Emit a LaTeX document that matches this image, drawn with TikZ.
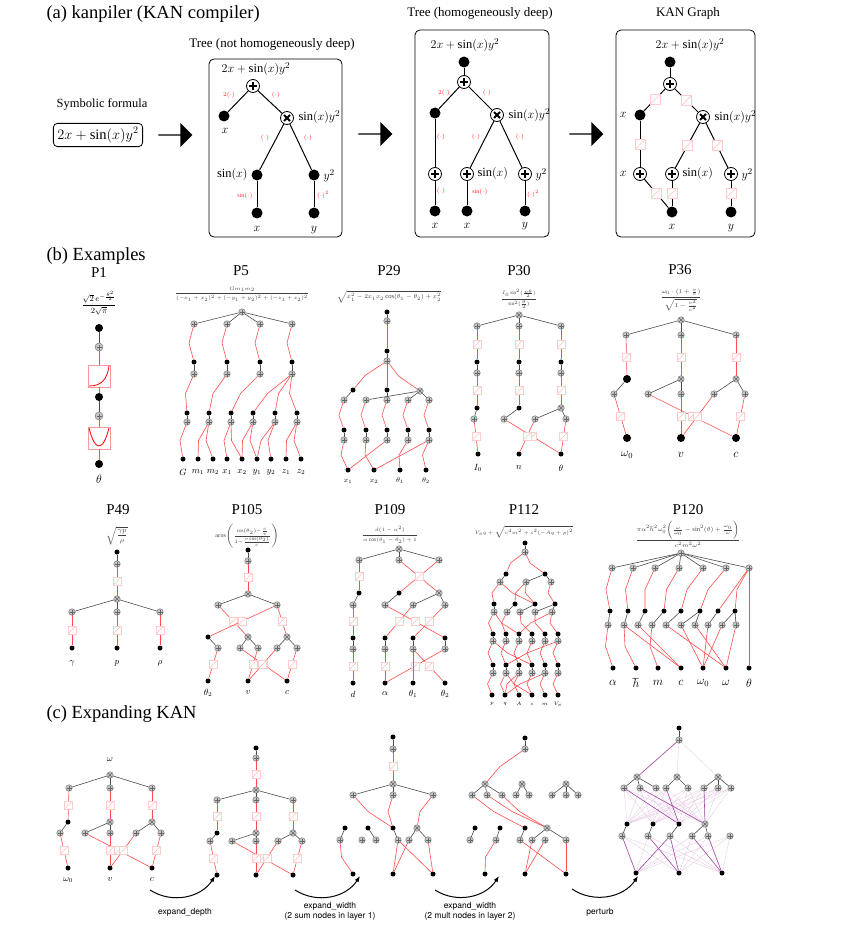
\documentclass[tikz,border=0pt]{standalone}
\usepackage{fontspec}
\setmainfont{Liberation Serif}
\newfontfamily\hv{TeX Gyre Heros}
\usetikzlibrary{calc,shapes.arrows,arrows.meta}
\tikzset{
 bd/.style={circle,fill=black,inner sep=0,minimum size=11},
 badd/.style={circle,draw,thick,fill=white,inner sep=0,minimum size=13,path picture={
   \draw[line width=1.8pt] ([xshift=-4pt]path picture bounding box.center)--([xshift=4pt]path picture bounding box.center);
   \draw[line width=1.8pt] ([yshift=-4pt]path picture bounding box.center)--([yshift=4pt]path picture bounding box.center);}},
 bmul/.style={circle,draw,thick,fill=white,inner sep=0,minimum size=13,path picture={
   \draw[line width=1.8pt] ([shift={(-3pt,-3pt)}]path picture bounding box.center)--([shift={(3pt,3pt)}]path picture bounding box.center);
   \draw[line width=1.8pt] ([shift={(-3pt,3pt)}]path picture bounding box.center)--([shift={(3pt,-3pt)}]path picture bounding box.center);}},
 be/.style={line width=1pt},
 rl/.style={text=red!85,font=\fontsize{6}{6}\selectfont,inner sep=1pt},
 tl/.style={font=\fontsize{13}{14}\selectfont},
 ml/.style={font=\fontsize{12.5}{13}\selectfont},
 sec/.style={font=\fontsize{18.5}{19}\selectfont,anchor=west},
 pt/.style={font=\fontsize{15}{16}\selectfont},
 fm/.style={font=\fontsize{6}{7}\selectfont,text=black!75,inner sep=1pt},
 il/.style={font=\fontsize{9}{10}\selectfont},
 sd/.style={circle,fill=black,inner sep=0,minimum size=5},
 sa/.style={circle,draw=black!60,fill=gray!45,inner sep=0,minimum size=6.5,path picture={
   \draw[line width=.5pt] ([xshift=-2.5pt]path picture bounding box.center)--([xshift=2.5pt]path picture bounding box.center);
   \draw[line width=.5pt] ([yshift=-2.5pt]path picture bounding box.center)--([yshift=2.5pt]path picture bounding box.center);}},
 sm/.style={circle,draw=black!60,fill=gray!45,inner sep=0,minimum size=6.5,path picture={
   \draw[line width=.5pt] ([shift={(-2pt,-2pt)}]path picture bounding box.center)--([shift={(2pt,2pt)}]path picture bounding box.center);
   \draw[line width=.5pt] ([shift={(-2pt,2pt)}]path picture bounding box.center)--([shift={(2pt,-2pt)}]path picture bounding box.center);}},
 sb/.style={rectangle,draw=red!20,fill=white,inner sep=0,minimum size=8,path picture={
   \draw[red!25] (path picture bounding box.south west)--(path picture bounding box.north east);}},
 kb/.style={black!70,line width=.6pt},
 kr/.style={red!70,line width=.6pt},
 kp/.style={violet!70,line width=.6pt},
 kf/.style={violet!25,line width=.25pt},
}
\newcommand\ND[3]{\node[sd] (#1) at (#2,#3) {};}
\newcommand\NA[3]{\node[sa] (#1) at (#2,#3) {};}
\newcommand\NM[3]{\node[sm] (#1) at (#2,#3) {};}
\newcommand\Eb[2]{\draw[kb] (#1) -- (#2);}
\newcommand\Er[2]{\draw[kr] (#1) -- ($(#1)!.5!(#2)+(-5,0)$) -- (#2);}
\newcommand\Es[2]{\draw[kr] (#1) -- (#2); \node[sb] at ($(#1)!.5!(#2)$) {};}
\newcommand\Ep[2]{\draw[kp] (#1) -- (#2);}
\begin{document}
\begin{tikzpicture}[x=1pt,y=-1pt]
\useasboundingbox[fill=white] (0,0) rectangle (857,928);
%% (a)
\node[sec] (ta) at (43,14) {(a) kanpiler (KAN compiler)};
\node[ml] (sf) at (102,104) {Symbolic formula};
\node[draw,rounded corners=4pt,thick,font=\fontsize{14.5}{15}\selectfont,inner sep=4pt] (sfb) at (98,135) {$2x+\sin(x)y^2$};
\node[single arrow,fill=black,minimum height=34,minimum width=24,single arrow head extend=4,inner sep=0] (ar1) at (175,135) {};
\node[single arrow,fill=black,minimum height=34,minimum width=24,single arrow head extend=4,inner sep=0] (ar2) at (375,134) {};
\node[single arrow,fill=black,minimum height=34,minimum width=24,single arrow head extend=4,inner sep=0] (ar3) at (586,134) {};
% box1
\node[tl] (t1) at (272,44) {Tree (not homogeneously deep)};
\draw[rounded corners=5pt,thick] (209,59) rectangle (342,237);
\node[ml] (f1) at (256,69) {$2x+\sin(x)y^2$};
\node[badd] (a1p) at (253,86) {};
\node[bd] (a1x) at (224,116) {}; \node[ml] (a1xl) at (225,131) {$x$};
\node[bmul] (a1m) at (287,118) {}; \node[ml,anchor=west] (a1ml) at (295,117) {$\sin(x)y^2$};
\node[bd] (a1s) at (257,175) {}; \node[ml,anchor=east] (a1sl) at (251,175) {$\sin(x)$};
\node[bd] (a1y) at (314,175) {}; \node[ml,anchor=west] (a1yl) at (320,176) {$y^2$};
\node[bd] (a1bx) at (257,213) {}; \node[ml] (a1bxl) at (257,229) {$x$};
\node[bd] (a1by) at (314,213) {}; \node[ml] (a1byl) at (314,230) {$y$};
\draw[be] (a1p)--(a1x); \draw[be] (a1p)--(a1m); \draw[be] (a1m)--(a1s); \draw[be] (a1m)--(a1y);
\draw[be] (a1s)--(a1bx); \draw[be] (a1y)--(a1by);
\node[rl] (r11) at (229,95) {$2(\cdot)$}; \node[rl] (r12) at (276,95) {$(\cdot)$};
\node[rl] (r13) at (265,138) {$(\cdot)$}; \node[rl] (r14) at (308,138) {$(\cdot)$};
\node[rl] (r15) at (245,196) {$\sin(\cdot)$}; \node[rl] (r16) at (323,195) {$(\cdot)^2$};
% box2
\node[tl] (t2) at (480,13) {Tree (homogeneously deep)};
\draw[rounded corners=5pt,thick] (415,30) rectangle (549,237);
\node[ml] (f2) at (465,45) {$2x+\sin(x)y^2$};
\node[bd] (b2t) at (464,62) {}; \node[badd] (b2p) at (464,82) {};
\node[bd] (b2x) at (435,113) {}; \node[bmul] (b2m) at (497,115) {};
\node[ml,anchor=west] (b2ml) at (505,115) {$\sin(x)y^2$};
\node[badd] (b2a) at (435,174) {}; \node[badd] (b2b) at (467,174) {}; \node[badd] (b2c) at (525,174) {};
\node[ml,anchor=west] (b2bl) at (474,174) {$\sin(x)$}; \node[ml,anchor=west] (b2cl) at (532,175) {$y^2$};
\node[bd] (b2d) at (435,211) {}; \node[bd] (b2e) at (467,211) {}; \node[bd] (b2f) at (525,211) {};
\node[ml] (b2dl) at (435,226) {$x$}; \node[ml] (b2el) at (467,226) {$x$}; \node[ml] (b2fl) at (525,226) {$y$};
\draw[be] (b2t)--(b2p); \draw[be] (b2p)--(b2x); \draw[be] (b2p)--(b2m); \draw[be] (b2x)--(b2a);
\draw[be] (b2m)--(b2b); \draw[be] (b2m)--(b2c); \draw[be] (b2a)--(b2d); \draw[be] (b2b)--(b2e); \draw[be] (b2c)--(b2f);
\node[rl] (r21) at (444,93) {$2(\cdot)$}; \node[rl] (r22) at (487,93) {$(\cdot)$};
\node[rl] (r23) at (441,137) {$(\cdot)$}; \node[rl] (r24) at (476,137) {$(\cdot)$}; \node[rl] (r25) at (520,137) {$(\cdot)$};
\node[rl] (r26) at (441,191) {$(\cdot)$}; \node[rl] (r27) at (480,192) {$\sin(\cdot)$}; \node[rl] (r28) at (533,194) {$(\cdot)^2$};
% box3
\node[tl] (t3) at (688,13) {KAN Graph};
\draw[rounded corners=5pt,thick] (616,30) rectangle (755,237);
\node[ml] (f3) at (690,45) {$2x+\sin(x)y^2$};
\node[bd] (c3t) at (670,62) {}; \node[badd] (c3p) at (670,84) {};
\node[bd] (c3x) at (640,115) {}; \node[ml,anchor=east] (c3xl) at (630,115) {$x$};
\node[bmul] (c3m) at (703,117) {}; \node[ml,anchor=west] (c3ml) at (711,117) {$\sin(x)y^2$};
\node[badd] (c3a) at (640,174) {}; \node[ml,anchor=east] (c3al) at (630,174) {$x$};
\node[badd] (c3b) at (672,174) {}; \node[ml,anchor=west] (c3bl) at (679,174) {$\sin(x)$};
\node[badd] (c3c) at (731,174) {}; \node[ml,anchor=west] (c3cl) at (738,175) {$y^2$};
\node[bd] (c3d) at (672,212) {}; \node[ml] (c3dl) at (672,227) {$x$};
\node[bd] (c3e) at (731,212) {}; \node[ml] (c3el) at (731,228) {$y$};
\draw[be] (c3t)--(c3p);
\foreach \a/\b in {c3p/c3x,c3p/c3m,c3x/c3a,c3m/c3b,c3m/c3c,c3a/c3d,c3b/c3d,c3c/c3e}{
  \draw[be] (\a)--(\b); \node[sb,minimum size=10] at ($(\a)!.5!(\b)$) {};}
%% (b)
\node[sec] (tb) at (43,256) {(b) Examples};
% P1
\node[pt] (p1) at (99,273) {P1};
\node[fm,text=black,font=\fontsize{8}{9}\selectfont] (p1f) at (99,303) {$\displaystyle\frac{\sqrt{2}\,e^{-\frac{\theta^2}{2}}}{2\sqrt{\pi}}$};
\node[bd,minimum size=8] (p1a) at (99,328) {}; \node[sa,minimum size=8] (p1b) at (99,347) {};
\node[draw=red!40,minimum size=22,inner sep=0] (p1c) at (99,376) {};
\node[bd,minimum size=8] (p1d) at (99,397) {}; \node[sa,minimum size=8] (p1e) at (99,416) {};
\node[draw=red!40,minimum size=22,inner sep=0] (p1g) at (99,438) {};
\node[bd,minimum size=8] (p1h) at (99,464) {}; \node[font=\fontsize{12}{12}\selectfont] (p1l) at (99,479) {$\theta$};
\draw[kb] (p1a)--(p1b); \draw[kr] (p1b)--(p1c); \draw[kr] (p1c)--(p1d); \draw[kb] (p1d)--(p1e); \draw[kr] (p1e)--(p1g); \draw[kr] (p1g)--(p1h);
\draw[red,thick] (89,386) .. controls (101,386) and (107,380) .. (109,366);
\draw[red,thick] (89,428) .. controls (95,452) and (103,452) .. (109,428);
% P5
\node[pt] (p5) at (241,271) {P5};
\node[fm,font=\fontsize{5.5}{6}\selectfont] (p5f) at (242,294) {$\displaystyle\frac{Gm_1m_2}{(-x_1+x_2)^2+(-y_1+y_2)^2+(-z_1+z_2)^2}$};
\NA{p5t}{242}{312}
\foreach \i/\x in {1/194,2/227,3/260,4/292}{\NA{p5a\i}{\x}{324} \ND{p5b\i}{\x}{362} \NA{p5c\i}{\x}{374} \Eb{p5t}{p5a\i} \Er{p5a\i}{p5b\i} \Eb{p5b\i}{p5c\i}}
\foreach \i/\x in {1/187,2/209,3/231,4/253,5/275,6/297}{\ND{p5d\i}{\x}{413} \NA{p5e\i}{\x}{422} \Eb{p5d\i}{p5e\i}}
\Er{p5c1}{p5d1} \Er{p5c2}{p5d2} \Er{p5c3}{p5d3} \Er{p5c4}{p5d4} \Er{p5c4}{p5d5} \Er{p5c4}{p5d6}
\foreach \i/\x/\l in {1/183/G,2/198/m_1,3/213/m_2,4/227/x_1,5/242/x_2,6/257/y_1,7/271/y_2,8/286/z_1,9/301/z_2}{\ND{p5i\i}{\x}{459} \node[il] (p5l\i) at (\x,472) {$\l$};}
\Er{p5e1}{p5i1} \Er{p5e2}{p5i2} \Er{p5e2}{p5i3} \Er{p5e3}{p5i4} \Er{p5e3}{p5i5} \Er{p5e4}{p5i5} \Er{p5e4}{p5i6} \Er{p5e5}{p5i7} \Er{p5e5}{p5i6} \Er{p5e6}{p5i8} \Er{p5e6}{p5i9}
% P29
\node[pt] (p29) at (389,271) {P29};
\node[fm,font=\fontsize{6.5}{7}\selectfont] (p29f) at (389,297) {$\sqrt{x_1^2-2x_1x_2\cos(\theta_1-\theta_2)+x_2^2}$};
\ND{p29a}{387}{312} \NA{p29b}{387}{321} \ND{p29c}{387}{351} \NA{p29d}{387}{361}
\Eb{p29a}{p29b} \draw[kr] (p29b)--(p29c); \Eb{p29c}{p29d}
\ND{p29e1}{353}{390} \ND{p29e2}{387}{390} \NM{p29e3}{420}{391}
\Er{p29d}{p29e1} \draw[kr] (p29d)--(p29e2); \Er{p29d}{p29e3}
\foreach \i/\x in {1/344,2/366,3/387,4/408,5/429}{\NA{p29f\i}{\x}{400} \ND{p29g\i}{\x}{430} \NA{p29h\i}{\x}{440} \Er{p29f\i}{p29g\i} \Eb{p29g\i}{p29h\i}}
\Eb{p29e1}{p29f1} \Eb{p29e2}{p29f3} \Eb{p29e3}{p29f2} \Eb{p29e3}{p29f4} \Eb{p29e3}{p29f5}
\foreach \i/\x/\l in {1/348/x_1,2/374/x_2,3/400/\theta_1,4/426/\theta_2}{\ND{p29i\i}{\x}{470} \node[il,font=\fontsize{7}{7}\selectfont] (p29l\i) at (\x,481) {$\l$};}
\Er{p29h1}{p29i1} \Er{p29h2}{p29i2} \draw[kr] (p29h3)--(p29i1); \Er{p29h4}{p29i3} \Er{p29h5}{p29i4} \draw[kr] (p29h5)--(p29i2);
% P30
\node[pt] (p30) at (519,271) {P30};
\node[fm,font=\fontsize{5}{6}\selectfont] (p30f) at (519,299) {$\displaystyle\frac{I_0\sin^2(\frac{n\theta}{2})}{\sin^2(\frac{\theta}{2})}$};
\NM{p30t}{519}{315}
\foreach \i/\x in {1/477,2/519,3/561}{\NA{p30a\i}{\x}{326} \ND{p30b\i}{\x}{362} \NA{p30c\i}{\x}{373} \Eb{p30t}{p30a\i} \Es{p30a\i}{p30b\i} \Eb{p30b\i}{p30c\i}}
\ND{p30d1}{477}{408} \ND{p30d2}{519}{408} \NM{p30d3}{561}{408}
\Es{p30c1}{p30d1} \Es{p30c2}{p30d2} \Es{p30c3}{p30d3}
\NA{p30e1}{474}{419} \NA{p30e2}{504}{419} \NA{p30e3}{535}{419} \NA{p30e4}{566}{419}
\Eb{p30d1}{p30e1} \Eb{p30d2}{p30e2} \Eb{p30d3}{p30e3} \Eb{p30d3}{p30e4}
\foreach \i/\x/\l in {1/478/I_0,2/519/n,3/561/\theta}{\ND{p30i\i}{\x}{454} \node[il] (p30l\i) at (\x,468) {$\l$};}
\Es{p30e1}{p30i1} \Es{p30e2}{p30i3} \Es{p30e3}{p30i2} \Es{p30e4}{p30i3}
% P36
\node[pt] (p36) at (680,270) {P36};
\node[fm,font=\fontsize{6.5}{7}\selectfont] (p36f) at (681,300) {$\displaystyle\frac{\omega_0\cdot(1+\frac{v}{c})}{\sqrt{1-\frac{v^2}{c^2}}}$};
\NM{p36t}{681}{320}
\foreach \i/\x in {1/626,2/681,3/736}{\NA{p36a\i}{\x}{335} \Eb{p36t}{p36a\i}}
\node[bd,minimum size=8] (p36b1) at (627,379) {}; \NM{p36b2}{681}{379} \NM{p36b3}{736}{379}
\Es{p36a1}{p36b1} \Es{p36a2}{p36b2} \Es{p36a3}{p36b3}
\foreach \i/\x in {1/614,2/648,3/681,4/714,5/745}{\NA{p36c\i}{\x}{394}}
\Eb{p36b1}{p36c1} \Eb{p36b2}{p36c2} \Eb{p36b2}{p36c3} \Eb{p36b3}{p36c4} \Eb{p36b3}{p36c5}
\foreach \i/\x/\l in {1/627/\omega_0,2/681/v,3/736/c}{\node[bd,minimum size=8] (p36i\i) at (\x,438) {}; \node[font=\fontsize{12}{12}\selectfont] (p36l\i) at (\x,455) {$\l$};}
\Es{p36c1}{p36i1} \Es{p36c2}{p36i3} \Es{p36c3}{p36i2} \Es{p36c4}{p36i2} \Es{p36c5}{p36i3}
% P49
\node[pt] (p49) at (118,510) {P49};
\node[fm,font=\fontsize{7}{8}\selectfont] (p49f) at (117,536) {$\sqrt{\displaystyle\frac{\gamma p}{\rho}}$};
\ND{p49a}{117}{552} \NA{p49b}{117}{564} \NM{p49d}{117}{599}
\Eb{p49a}{p49b} \Es{p49b}{p49d}
\foreach \i/\x/\l in {1/72/\gamma,2/117/p,3/160/\rho}{\NA{p49e\i}{\x}{612} \ND{p49i\i}{\x}{648} \Eb{p49d}{p49e\i} \Es{p49e\i}{p49i\i} \node[il] (p49l\i) at (\x,663) {$\l$};}
% P105
\node[pt] (p105) at (247,510) {P105};
\node[fm,font=\fontsize{6}{7}\selectfont] (p105f) at (247,536) {$\mathrm{acos}\Bigl(\frac{\cos(\theta_2)-\frac{c}{v}}{1-\frac{v\cos(\theta_2)}{c}}\Bigr)$};
\ND{p105a}{248}{550} \NA{p105b}{248}{561} \NM{p105c}{248}{594}
\Eb{p105a}{p105b} \Es{p105b}{p105c}
\NA{p105d1}{218}{605} \NA{p105d2}{277}{605} \Eb{p105c}{p105d1} \Eb{p105c}{p105d2}
\ND{p105e1}{208}{637} \NM{p105e2}{248}{637} \NM{p105e3}{287}{637}
\Es{p105d1}{p105e2} \Es{p105d2}{p105e1} \Es{p105d2}{p105e3}
\foreach \i/\x in {1/218,2/240,3/258,4/277,5/297}{\NA{p105f\i}{\x}{648}}
\Eb{p105e1}{p105f1} \Eb{p105e2}{p105f2} \Eb{p105e2}{p105f3} \Eb{p105e3}{p105f4} \Eb{p105e3}{p105f5}
\foreach \i/\x/\l in {1/208/\theta_2,2/248/v,3/287/c}{\ND{p105i\i}{\x}{681} \node[il] (p105l\i) at (\x,693) {$\l$};}
\Es{p105f1}{p105i1} \Es{p105f2}{p105i3} \Es{p105f3}{p105i2} \Es{p105f4}{p105i2} \Es{p105f5}{p105i3}
% P109
\node[pt] (p109) at (390,510) {P109};
\node[fm,font=\fontsize{5.5}{6}\selectfont] (p109f) at (390,535) {$\displaystyle\frac{d(1-\alpha^2)}{\alpha\cos(\theta_1-\theta_2)+1}$};
\NM{p109t}{399}{549}
\foreach \i/\x in {1/359,2/399,3/439}{\NA{p109a\i}{\x}{560} \Eb{p109t}{p109a\i}}
\ND{p109b1}{359}{593} \ND{p109b2}{399}{593} \NM{p109b3}{439}{593}
\Es{p109a1}{p109b1} \Es{p109a2}{p109b3} \Es{p109a3}{p109b2}
\foreach \i/\x in {1/353,2/385,3/413,4/445}{\NA{p109c\i}{\x}{605} \ND{p109d\i}{\x}{638} \NA{p109e\i}{\x}{649} \Eb{p109d\i}{p109e\i}}
\Eb{p109b1}{p109c1} \Eb{p109b2}{p109c2} \Eb{p109b3}{p109c3} \Eb{p109b3}{p109c4}
\Es{p109c1}{p109d1} \Es{p109c2}{p109d4} \Es{p109c3}{p109d2} \Es{p109c4}{p109d3}
\foreach \i/\x/\l in {1/353/d,2/385/\alpha,3/413/\theta_1,4/445/\theta_2}{\ND{p109i\i}{\x}{683} \node[il] (p109l\i) at (\x,694) {$\l$};}
\Es{p109e1}{p109i1} \Es{p109e2}{p109i2} \Es{p109e3}{p109i4} \Es{p109e4}{p109i2} \draw[kr] (p109e3)--(p109i3);
% P112
\node[pt] (p112) at (524,510) {P112};
\node[fm,font=\fontsize{4.5}{5}\selectfont] (p112f) at (524,532) {$V_eq+\sqrt{c^4m^2+c^2(-Aq+p)^2}$};
\ND{p112a}{525}{543} \NA{p112b}{525}{552} \Eb{p112a}{p112b}
\ND{p112c1}{506}{574} \ND{p112c2}{545}{574} \Er{p112b}{p112c1} \Er{p112b}{p112c2}
\NA{p112d1}{500}{582} \NA{p112d2}{526}{582} \NA{p112d3}{551}{582}
\Eb{p112c1}{p112d1} \Eb{p112c2}{p112d2} \Eb{p112c2}{p112d3}
\foreach \i/\x in {1/494,2/515,3/535,4/555}{\ND{p112e\i}{\x}{604}}
\foreach \i/\x in {1/494,2/507,3/520,4/535,5/552}{\NA{p112f\i}{\x}{612}}
\Er{p112d1}{p112e1} \Er{p112d1}{p112e3} \Er{p112d2}{p112e2} \Er{p112d3}{p112e4} \Er{p112d2}{p112e3}
\Eb{p112e1}{p112f1} \Eb{p112e2}{p112f2} \Eb{p112e3}{p112f3} \Eb{p112e4}{p112f4} \Eb{p112e4}{p112f5}
\foreach \i/\x in {1/493,2/506,3/519,4/532,5/545,6/558}{\ND{p112g\i}{\x}{634} \NA{p112h\i}{\x}{641} \Eb{p112g\i}{p112h\i} \ND{p112j\i}{\x}{665} \NA{p112k\i}{\x}{673} \Eb{p112j\i}{p112k\i}}
\Er{p112f1}{p112g1} \Er{p112f1}{p112g3} \Er{p112f2}{p112g2} \Er{p112f3}{p112g4} \Er{p112f4}{p112g5} \Er{p112f5}{p112g6} \Er{p112f5}{p112g3}
\foreach \i/\j in {1/1,2/2,3/3,4/4,5/5,6/6,1/4,6/2}{\Er{p112h\i}{p112j\j}}
\foreach \i/\x/\l in {1/492/p,2/505/q,3/519/A,4/532/c,5/545/m,6/558/V_e}{\ND{p112i\i}{\x}{695} \node[il,font=\fontsize{5.5}{6}\selectfont] (p112l\i) at (\x,704) {$\l$};}
\foreach \i/\j in {1/1,2/2,3/3,4/4,5/5,6/6,3/2,5/2,2/4}{\Er{p112k\i}{p112i\j}}
% P120
\node[pt] (p120) at (688,510) {P120};
\node[fm,font=\fontsize{6.5}{7}\selectfont] (p120f) at (688,534) {$\displaystyle\frac{\pi\alpha^2\hbar^2\omega_0^2\bigl(\frac{\omega}{\omega_0}-\sin^2(\theta)+\frac{\omega_0}{\omega}\bigr)}{c^2m^2\omega^2}$};
\NA{p120t}{681}{553}
\foreach \i/\x in {1/612,2/633,3/655,4/679,5/703,6/726,7/749}{\NA{p120a\i}{\x}{568} \Eb{p120t}{p120a\i}}
\foreach \i/\x in {1/610,2/628,3/645,4/664,5/681,6/700,7/718,8/735}{\ND{p120b\i}{\x}{611}}
\foreach \i/\x in {1/608,2/624,3/638,4/652,5/666,6/681,7/695,8/708,9/722,10/736}{\NA{p120c\i}{\x}{625}}
\Er{p120a1}{p120b1} \Er{p120a2}{p120b2} \Er{p120a3}{p120b3} \Er{p120a4}{p120b4} \Er{p120a5}{p120b5} \Er{p120a6}{p120b6} \draw[kr] (p120a7)--(p120b7); \Er{p120a7}{p120b8}
\Eb{p120b1}{p120c1} \Eb{p120b2}{p120c2} \Eb{p120b3}{p120c3} \Eb{p120b4}{p120c4} \Eb{p120b5}{p120c5} \Eb{p120b6}{p120c6} \Eb{p120b6}{p120c7} \Eb{p120b7}{p120c8} \Eb{p120b8}{p120c9} \Eb{p120b8}{p120c10}
\foreach \i/\x/\l in {1/613/\alpha,2/636/\hbar,3/658/m,4/681/c,5/703/\omega_0,6/726/\omega,7/749/\theta}{\ND{p120i\i}{\x}{668} \node[font=\fontsize{12}{12}\selectfont] (p120l\i) at (\x,683) {$\l$};}
\Er{p120c1}{p120i1} \Er{p120c2}{p120i2} \draw[kr] (p120c3)--(p120i4); \Er{p120c4}{p120i3} \draw[kr] (p120c5)--(p120i6); \draw[kr] (p120c6)--(p120i5); \draw[kr] (p120c7)--(p120i6); \draw[kr] (p120c8)--(p120i5); \draw[kr] (p120c9)--(p120i5); \draw[kr] (p120c10)--(p120i6); \draw[kr] (p120a7)--(p120i7); \draw[kr] (p120c2)--(p120i4);
%% (c)
\node[sec] (tc) at (43,714) {(c) Expanding KAN};
% g1
\node[il] (g1w) at (110,760) {$\omega$};
\NM{g1t}{110}{775}
\foreach \i/\x in {1/69,2/110,3/152}{\NA{g1a\i}{\x}{788} \Eb{g1t}{g1a\i}}
\ND{g1b1}{68}{822} \NM{g1b2}{110}{822} \NM{g1b3}{152}{822}
\Es{g1a1}{g1b1} \Es{g1a2}{g1b2} \Es{g1a3}{g1b3}
\foreach \i/\x in {1/60,2/85,3/110,4/136,5/161}{\NA{g1c\i}{\x}{833}}
\Eb{g1b1}{g1c1} \Eb{g1b2}{g1c2} \Eb{g1b2}{g1c3} \Eb{g1b3}{g1c4} \Eb{g1b3}{g1c5}
\foreach \i/\x/\l in {1/68/\omega_0,2/110/v,3/152/c}{\ND{g1i\i}{\x}{868} \node[il] (g1l\i) at (\x,880) {$\l$};}
\Es{g1c1}{g1i1} \Es{g1c2}{g1i3} \Es{g1c3}{g1i2} \Es{g1c4}{g1i2} \Es{g1c5}{g1i3}
% g2
\ND{g2a}{256}{748} \NA{g2b}{256}{758} \NM{g2t}{256}{790} \Eb{g2a}{g2b} \Es{g2b}{g2t}
\foreach \i/\x in {1/217,2/256,3/293}{\NA{g2c\i}{\x}{800} \Eb{g2t}{g2c\i}}
\ND{g2d1}{217}{833} \NM{g2d2}{256}{833} \NM{g2d3}{293}{833}
\Es{g2c1}{g2d1} \Es{g2c2}{g2d2} \Es{g2c3}{g2d3}
\foreach \i/\x in {1/210,2/232,3/256,4/278,5/302}{\NA{g2e\i}{\x}{841}}
\Eb{g2d1}{g2e1} \Eb{g2d2}{g2e2} \Eb{g2d2}{g2e3} \Eb{g2d3}{g2e4} \Eb{g2d3}{g2e5}
\foreach \i/\x in {1/217,2/256,3/293}{\ND{g2i\i}{\x}{875}}
\Es{g2e1}{g2i1} \Es{g2e2}{g2i3} \Es{g2e3}{g2i2} \Es{g2e4}{g2i2} \Es{g2e5}{g2i3}
% g3
\ND{g3a}{393}{737} \NA{g3b}{393}{749} \NM{g3t}{393}{784} \Eb{g3a}{g3b} \Es{g3b}{g3t}
\NA{g3c1}{353}{795} \NA{g3c2}{393}{795} \NA{g3c3}{433}{795} \Eb{g3t}{g3c1} \Eb{g3t}{g3c2} \Eb{g3t}{g3c3}
\ND{g3d1}{345}{828} \ND{g3d2}{368}{828} \ND{g3d3}{393}{828} \NM{g3d4}{417}{828}
\foreach \i/\x in {1/340,2/362,3/376,4/398,5/409,6/428}{\NA{g3e\i}{\x}{840}}
\Eb{g3d1}{g3e1} \Eb{g3d2}{g3e3} \Eb{g3d3}{g3e4} \Eb{g3d4}{g3e5} \Eb{g3d4}{g3e6}
\Er{g3c1}{g3d3} \Er{g3c2}{g3d3} \Er{g3c3}{g3d4}
\foreach \i/\x in {1/353,2/393,3/433}{\ND{g3i\i}{\x}{874}}
\Er{g3e1}{g3i1} \draw[kr] (g3e4)--(g3i2); \draw[kr] (g3e5)--(g3i2); \draw[kr] (g3e6)--(g3i3); \draw[kr] (g3e4)--(g3i3);
% g4
\ND{g4a}{525}{738} \NA{g4b}{525}{749} \Eb{g4a}{g4b}
\NM{g4m1}{485}{784} \NM{g4m2}{522}{784} \NM{g4m3}{566}{784}
\Er{g4b}{g4m1}
\foreach \i/\x in {1/472,2/487,3/502}{\NA{g4c\i}{\x}{795} \Eb{g4m1}{g4c\i}}
\NA{g4c4}{516}{795} \NA{g4c5}{529}{795} \Eb{g4m2}{g4c4} \Eb{g4m2}{g4c5}
\NA{g4c6}{552}{795} \NA{g4c7}{566}{795} \NA{g4c8}{578}{795} \Eb{g4m3}{g4c6} \Eb{g4m3}{g4c7} \Eb{g4m3}{g4c8}
\ND{g4d1}{475}{828} \ND{g4d2}{500}{828} \ND{g4d3}{525}{828} \NM{g4d4}{547}{828}
\foreach \i/\x in {1/470,2/496,3/520,4/532,5/545,6/566}{\NA{g4e\i}{\x}{840}}
\Eb{g4d1}{g4e1} \Eb{g4d2}{g4e2} \Eb{g4d3}{g4e3} \Eb{g4d4}{g4e4} \Eb{g4d4}{g4e6}
\Er{g4c1}{g4d3} \Er{g4c2}{g4d4} \Er{g4c3}{g4d4}
\foreach \i/\x in {1/485,2/525,3/566}{\ND{g4i\i}{\x}{874}}
\Er{g4e2}{g4i1} \draw[kr] (g4e4)--(g4i2); \draw[kr] (g4e3)--(g4i3); \draw[kr] (g4e5)--(g4i2); \draw[kr] (g4e6)--(g4i3);
% g5
\ND{g5a}{679}{728} \NA{g5b}{679}{740} \Eb{g5a}{g5b}
\NM{g5m1}{637}{777} \NM{g5m2}{677}{777} \NM{g5m3}{718}{777}
\foreach \i/\x in {1/624,2/640,3/656,4/666,5/688,6/704,7/718,8/731}{\NA{g5c\i}{\x}{788}}
\Eb{g5m1}{g5c1} \Eb{g5m1}{g5c2} \Eb{g5m1}{g5c3} \Eb{g5m2}{g5c4} \Eb{g5m2}{g5c5} \Eb{g5m3}{g5c6} \Eb{g5m3}{g5c7} \Eb{g5m3}{g5c8}
\ND{g5d1}{627}{824} \ND{g5d2}{653}{824} \ND{g5d3}{679}{824} \NM{g5d4}{705}{824}
\foreach \i/\x in {1/622,2/648,3/670,4/692,5/708,6/730}{\NA{g5e\i}{\x}{836}}
\Eb{g5d1}{g5e1} \Eb{g5d2}{g5e2} \Eb{g5d3}{g5e3} \Eb{g5d4}{g5e4} \Eb{g5d4}{g5e5}
\foreach \i/\x in {1/636,2/679,3/722}{\ND{g5i\i}{\x}{873}}
\foreach \i in {1,...,8}{\foreach \j in {1,2,3,4}{\draw[kf] (g5c\i)--(g5d\j);}}
\foreach \i in {1,...,6}{\foreach \j in {1,2,3}{\draw[kf] (g5e\i)--(g5i\j);}}
\foreach \j in {1,2,3}{\draw[kf] (g5b)--(g5m\j);}
\Ep{g5b}{g5m1} \Ep{g5c1}{g5d3} \Ep{g5c2}{g5d4} \Ep{g5c4}{g5d3} \Ep{g5c6}{g5d4}
\Ep{g5e1}{g5i1} \Ep{g5e2}{g5i2} \Ep{g5e3}{g5i2} \Ep{g5e4}{g5i3} \Ep{g5e5}{g5i3} \Ep{g5e3}{g5i1}
% arrows
\coordinate (q1) at (150,890); \coordinate (q2) at (215,876);
\coordinate (q3) at (295,890); \coordinate (q4) at (360,876);
\coordinate (q5) at (435,890); \coordinate (q6) at (499,876);
\coordinate (q7) at (572,889); \coordinate (q8) at (638,876);
\foreach \a/\b in {q1/q2,q3/q4,q5/q6,q7/q8}{\draw[-{Latex[length=6pt]},line width=1pt] (\a) to[bend right=45] (\b);}
\node[font=\hv\fontsize{8.5}{10}\selectfont] (c1) at (185,912) {expand\_depth};
\node[font=\hv\fontsize{8.5}{10}\selectfont,align=center] (c2) at (330,911) {expand\_width\\(2 sum nodes in layer 1)};
\node[font=\hv\fontsize{8.5}{10}\selectfont,align=center] (c3) at (470,911) {expand\_width\\(2 mult nodes in layer 2)};
\node[font=\hv\fontsize{8.5}{10}\selectfont] (c4) at (600,912) {perturb};
\end{tikzpicture}
\end{document}
